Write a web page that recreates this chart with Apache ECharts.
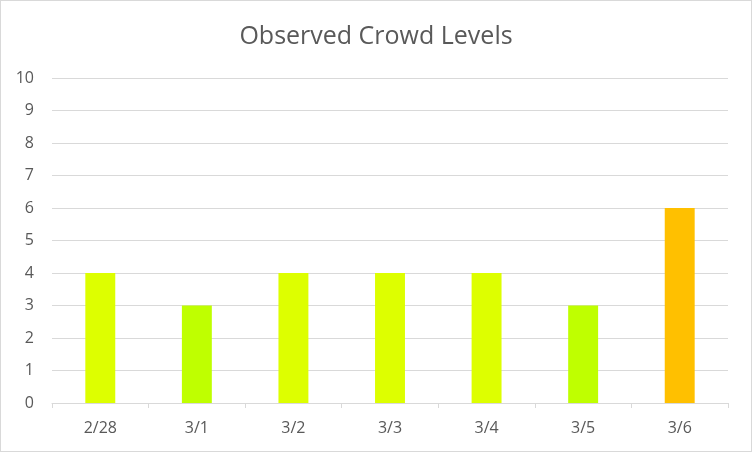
<!DOCTYPE html>
<html><head><meta charset="utf-8">
<script src="https://cdn.jsdelivr.net/npm/echarts@6/dist/echarts.min.js"></script>
<style>html,body{margin:0;padding:0;background:#fff}#c{width:750px;height:450px;border:1px solid #d9d9d9}</style>
</head><body><div id="c"></div>
<script>
const categories = ['2/28','3/1','3/2','3/3','3/4','3/5','3/6'];
const crowdLevels = [4,3,4,4,4,3,6];
const barColors = ['#DDFF00','#BFFF00','#DDFF00','#DDFF00','#DDFF00','#BFFF00','#FFC000'];
const yTicks = {min:0,max:10,interval:1};
const FONT = '"Open Sans", sans-serif';
const chart = echarts.init(document.getElementById('c'));
chart.setOption({
  animation:false,
  title:{text:'Observed Crowd Levels',left:'center',top:18,textStyle:{fontFamily:FONT,fontSize:25,fontWeight:'normal',color:'#595959'}},
  grid:{left:51,right:23,top:77,bottom:48},
  xAxis:{type:'category',data:categories,
    axisLine:{lineStyle:{color:'#d9d9d9',width:1}},
    axisTick:{show:true,length:5,lineStyle:{color:'#d9d9d9'}},
    axisLabel:{color:'#595959',fontFamily:FONT,fontSize:16,margin:17}},
  yAxis:{type:'value',min:yTicks.min,max:yTicks.max,interval:yTicks.interval,
    axisLine:{show:false},axisTick:{show:false},
    splitLine:{lineStyle:{color:'#d9d9d9',width:1}},
    axisLabel:{color:'#595959',fontFamily:FONT,fontSize:16,margin:18}},
  series:[{type:'bar',barWidth:'31%',
    data:crowdLevels.map((v,i)=>({value:v,itemStyle:{color:barColors[i]}}))}]
});
</script></body></html>
